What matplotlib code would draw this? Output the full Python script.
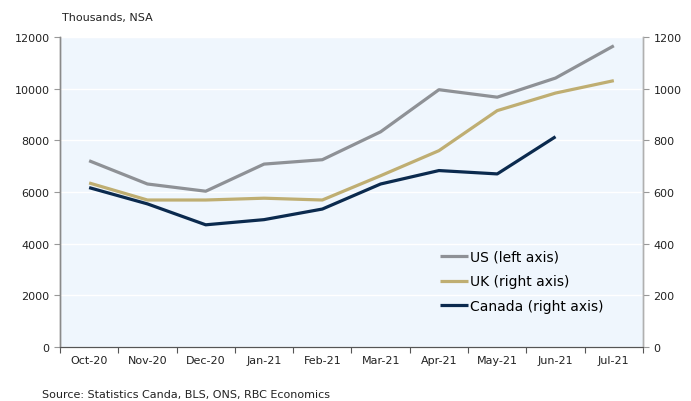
import matplotlib
matplotlib.use("Agg")
import matplotlib.pyplot as plt
import numpy as np

# -------------------------------
# Data
# -------------------------------
months = ["Oct-20", "Nov-20", "Dec-20", "Jan-21", "Feb-21",
          "Mar-21", "Apr-21", "May-21", "Jun-21", "Jul-21"]

us_left = [7210, 6310, 6030, 7080, 7250, 8330, 9960, 9670, 10410, 11660]
uk_right = [635, 569, 569, 576, 569, 663, 760, 915, 983, 1031]
canada_right = [617, 554, 473, 493, 534, 631, 683, 670, 814]

US_COLOR = "#8E9196"
UK_COLOR = "#BFAE72"
CA_COLOR = "#0B2A4E"

plt.rcParams['font.family'] = ['DejaVu Sans']

# -------------------------------
# Figure
# -------------------------------
fig = plt.figure(figsize=(6.91, 4.02), dpi=100)
ax = fig.add_axes([0.0868, 0.1343, 0.8437, 0.7712])
ax2 = ax.twinx()

x = np.arange(len(months))
ax.plot(x, us_left, color=US_COLOR, lw=2.3, label="US (left axis)", solid_capstyle="butt")
ax2.plot(x, uk_right, color=UK_COLOR, lw=2.3, label="UK (right axis)", solid_capstyle="butt")
ax2.plot(x[:len(canada_right)], canada_right, color=CA_COLOR, lw=2.3,
         label="Canada (right axis)", solid_capstyle="butt")

ax.set_facecolor("#EFF6FD")
ax.set_xlim(-0.5, len(months) - 0.5)
ax.set_ylim(0, 12000)
ax2.set_ylim(0, 1200)
ax.set_yticks(np.arange(0, 12001, 2000))
ax2.set_yticks(np.arange(0, 1201, 200))
ax.yaxis.grid(True, color="white", lw=1.0)
ax.set_axisbelow(True)

# category ticks between labels
ax.set_xticks(np.arange(-0.5, len(months), 1.0))
ax.set_xticklabels([])
ax.set_xticks(x, minor=True)
ax.set_xticklabels(months, minor=True)
ax.tick_params(axis="x", which="minor", length=0, pad=6, labelsize=8, colors="#222222")
ax.tick_params(axis="x", which="major", length=4, color="#555555")
ax.tick_params(axis="y", length=4, color="#999999", labelsize=8, labelcolor="#222222")
ax2.tick_params(axis="y", length=4, color="#999999", labelsize=8, labelcolor="#222222")

for a in (ax, ax2):
    a.spines["top"].set_visible(False)
    a.spines["left"].set_color("#8a8a8a")
    a.spines["right"].set_color("#b0b0b0")
    a.spines["bottom"].set_color("#555555")
    a.spines["left"].set_linewidth(1.0)
    a.spines["right"].set_linewidth(1.0)

# legend
h1, l1 = ax.get_legend_handles_labels()
h2, l2 = ax2.get_legend_handles_labels()
leg = ax2.legend(h1 + h2, l1 + l2, loc="lower left", bbox_to_anchor=(0.63, 0.07),
                 frameon=False, fontsize=10, handlelength=2.0, handletextpad=0.15,
                 labelspacing=0.75)

# titles / notes
fig.text(0.09, 0.955, "Thousands, NSA", fontsize=8, color="#222222", va="center")
fig.text(0.061, 0.017, "Source: Statistics Canda, BLS, ONS, RBC Economics",
         fontsize=8, color="#222222", va="center")

fig.savefig("out.png", dpi=100)
